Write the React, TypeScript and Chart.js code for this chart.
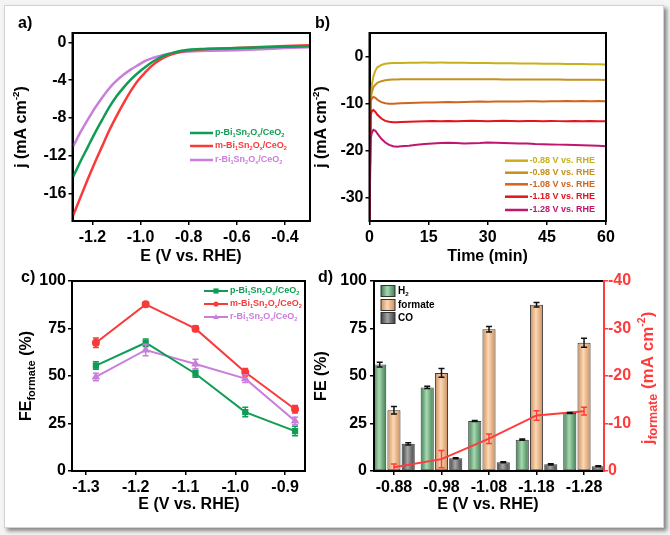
import React, { useEffect, useRef } from 'react';
import { Chart, registerables } from 'chart.js';

Chart.register(...registerables);

const FONT = '"Liberation Sans", Arial, Helvetica, sans-serif';

// ---------- panel a: LSV ----------
const LSV_E = [-1.28, -1.25, -1.22, -1.19, -1.16, -1.13, -1.10, -1.07, -1.04, -1.01, -0.98, -0.95, -0.92, -0.89, -0.86, -0.83, -0.80, -0.75, -0.70, -0.60, -0.50, -0.40, -0.30];
const LSV_P = [-14.2, -12.6, -11.1, -9.6, -8.2, -6.85, -5.7, -4.75, -3.9, -3.2, -2.6, -2.05, -1.6, -1.28, -1.05, -0.88, -0.78, -0.7, -0.66, -0.6, -0.52, -0.45, -0.4];
const LSV_M = [-18.3, -16.4, -14.5, -12.7, -11.0, -9.3, -7.8, -6.4, -5.1, -4.0, -3.15, -2.4, -1.85, -1.45, -1.18, -0.98, -0.85, -0.75, -0.68, -0.58, -0.48, -0.38, -0.3];
const LSV_R = [-11.0, -9.5, -8.2, -6.95, -5.85, -4.85, -4.05, -3.4, -2.85, -2.4, -1.95, -1.65, -1.42, -1.25, -1.1, -1.0, -0.95, -0.9, -0.88, -0.82, -0.72, -0.6, -0.5];
const A_XTICKS = [-1.2, -1.0, -0.8, -0.6, -0.4];
const A_YTICKS = [0, -4, -8, -12, -16];

// ---------- panel b: chronoamperometry ----------
const TIME = [0, 0.3, 0.6, 1, 1.5, 2, 3, 4, 5, 6, 7, 8, 10, 12, 14, 16, 18, 20, 22, 24, 26, 28, 30, 32, 34, 36, 38, 40, 42, 44, 46, 48, 50, 52, 54, 56, 58, 60];
const CA_088 = [-35, -8.5, -6.0, -4.2, -3.0, -2.3, -1.8, -1.55, -1.45, -1.4, -1.38, -1.36, -1.33, -1.32, -1.3, -1.31, -1.3, -1.32, -1.33, -1.35, -1.36, -1.38, -1.4, -1.42, -1.43, -1.45, -1.47, -1.48, -1.5, -1.52, -1.53, -1.55, -1.57, -1.6, -1.62, -1.65, -1.67, -1.7];
const CA_098 = [-35, -9, -7.6, -6.5, -6.0, -5.6, -5.25, -5.05, -4.95, -4.9, -4.88, -4.86, -4.85, -4.84, -4.83, -4.82, -4.82, -4.83, -4.82, -4.84, -4.83, -4.85, -4.86, -4.85, -4.87, -4.88, -4.87, -4.9, -4.9, -4.91, -4.92, -4.92, -4.93, -4.95, -4.94, -4.96, -4.97, -4.98];
const CA_108 = [-35, -9.6, -8.9, -8.6, -8.8, -9.2, -9.7, -9.95, -10.05, -10.05, -10.0, -9.95, -9.9, -9.85, -9.8, -9.78, -9.75, -9.7, -9.72, -9.68, -9.65, -9.6, -9.62, -9.58, -9.6, -9.55, -9.57, -9.52, -9.5, -9.55, -9.5, -9.52, -9.48, -9.5, -9.47, -9.5, -9.48, -9.5];
const CA_118 = [-35, -12.5, -11.6, -11.4, -11.8, -12.4, -13.2, -13.7, -13.9, -14.0, -14.0, -13.95, -13.9, -13.85, -13.8, -13.75, -13.8, -13.7, -13.75, -13.7, -13.65, -13.7, -13.75, -13.7, -13.65, -13.7, -13.75, -13.7, -13.7, -13.75, -13.7, -13.75, -13.8, -13.75, -13.8, -13.75, -13.8, -13.8];
const CA_128 = [-35, -17.5, -16.2, -15.6, -15.8, -16.4, -17.5, -18.3, -18.8, -19.1, -19.2, -19.1, -19.0, -18.8, -18.6, -18.5, -18.4, -18.35, -18.4, -18.5, -18.45, -18.4, -18.3, -18.35, -18.4, -18.45, -18.5, -18.5, -18.6, -18.65, -18.7, -18.75, -18.8, -18.85, -18.9, -18.95, -19.0, -19.1];
const CA_LABELS = ['-0.88', '-0.98', '-1.08', '-1.18', '-1.28'];
const B_XTICKS = [0, 15, 30, 45, 60];
const B_YTICKS = [0, -10, -20, -30];

// ---------- panel c: FE formate ----------
const POT_C = [-1.28, -1.18, -1.08, -0.98, -0.88];
const FE_P = [55.5, 67.5, 51.2, 31, 21];
const FE_M = [67.5, 87.7, 74.9, 52, 32.5];
const FE_R = [49.5, 63.7, 56.3, 48.6, 26.3];
const FE_P_ERR = [2, 2, 1.8, 2.5, 2.5];
const FE_M_ERR = [2.5, 1.2, 1.5, 2, 2];
const FE_R_ERR = [2, 3, 2.5, 2, 2];
const C_XTICKS = [-1.3, -1.2, -1.1, -1.0, -0.9];
const C_YTICKS = [0, 25, 50, 75, 100];

// ---------- panel d: product FE + j formate ----------
const CATS = ['-0.88', '-0.98', '-1.08', '-1.18', '-1.28'];
const FE_H2 = [56, 44, 26.3, 16.5, 30.5];
const FE_FORMATE = [32, 51.6, 74.6, 87.5, 67.5];
const FE_CO = [14.3, 6.7, 4.6, 3.5, 2.5];
const H2_ERR = [1.2, 0.6, 0.3, 0.3, 0.3];
const FORM_ERR = [2, 2.3, 1.5, 1.2, 2.4];
const CO_ERR = [0.6, 0.3, 0.3, 0.3, 0.3];
const J_FORMATE = [-0.8, -2.5, -6.8, -11.7, -12.6];
const J_ERR = [0.7, 1.8, 1.0, 1.0, 0.8];
const D_YTICKS = [0, 25, 50, 75, 100];
const D_Y2TICKS = [0, -10, -20, -30, -40];

const SAMPLES = ['p', 'm', 'r'];
const GREEN = '#0f9d55';
const RED = '#f83a3a';
const PURPLE = '#c97edc';
const CA_COLORS = ['#c6b11a', '#c68f1e', '#d0661e', '#e3141c', '#c0166e'];

const TICK_FONT = { family: FONT, size: 16, weight: 'bold' as const };

function fnt(size: number) {
  return `bold ${size}px ${FONT}`;
}

type Part = { t: string; k?: 'sub' | 'sup'; s?: number };

function drawRich(ctx: any, parts: Part[], x: number, y: number, size: number, color: string, align: 'center' | 'left' = 'center', rotate = false) {
  ctx.save();
  ctx.translate(x, y);
  if (rotate) ctx.rotate(-Math.PI / 2);
  ctx.fillStyle = color;
  ctx.textBaseline = 'middle';
  ctx.textAlign = 'left';
  const specs = parts.map((p) => {
    const s = p.s ?? (p.k ? size * 0.62 : size);
    ctx.font = fnt(s);
    return { ...p, s, w: ctx.measureText(p.t).width };
  });
  const total = specs.reduce((a, b) => a + b.w, 0);
  let cx = align === 'center' ? -total / 2 : 0;
  for (const p of specs) {
    ctx.font = fnt(p.s);
    const dy = p.k === 'sub' ? size * 0.3 : p.k === 'sup' ? -size * 0.35 : 0;
    ctx.fillText(p.t, cx, dy);
    cx += p.w;
  }
  ctx.restore();
}

function sampleName(prefix: string): Part[] {
  return [
    { t: prefix + '-Bi' }, { t: '1', k: 'sub' }, { t: 'Sn' }, { t: '2', k: 'sub' },
    { t: 'O' }, { t: 'x', k: 'sub' }, { t: '/CeO' }, { t: '2', k: 'sub' },
  ];
}

function frame(chart: any, color = '#000') {
  const { left, top, right, bottom } = chart.chartArea;
  const ctx = chart.ctx;
  ctx.save();
  ctx.strokeStyle = color;
  ctx.lineWidth = 2;
  ctx.strokeRect(left, top, right - left, bottom - top);
  ctx.restore();
}

function line(ctx: any, x1: number, y1: number, x2: number, y2: number, color: string, w: number) {
  ctx.save();
  ctx.strokeStyle = color;
  ctx.lineWidth = w;
  ctx.beginPath();
  ctx.moveTo(x1, y1);
  ctx.lineTo(x2, y2);
  ctx.stroke();
  ctx.restore();
}

function marker(ctx: any, style: string, x: number, y: number, r: number, color: string) {
  ctx.save();
  ctx.fillStyle = color;
  ctx.beginPath();
  if (style === 'rect') {
    ctx.rect(x - r, y - r, 2 * r, 2 * r);
  } else if (style === 'circle') {
    ctx.arc(x, y, r, 0, Math.PI * 2);
  } else {
    ctx.moveTo(x, y - r * 1.2);
    ctx.lineTo(x + r * 1.1, y + r * 0.8);
    ctx.lineTo(x - r * 1.1, y + r * 0.8);
    ctx.closePath();
  }
  ctx.fill();
  ctx.restore();
}

const errorBars = {
  id: 'errorBars',
  afterDatasetsDraw(chart: any) {
    const ctx = chart.ctx;
    chart.data.datasets.forEach((ds: any, i: number) => {
      if (!ds.errors) return;
      const meta = chart.getDatasetMeta(i);
      const scale = chart.scales[meta.yAxisID];
      const color = ds.errorColor || ds.borderColor;
      ctx.save();
      ctx.strokeStyle = color;
      ctx.lineWidth = 1.5;
      meta.data.forEach((el: any, j: number) => {
        const d = ds.data[j];
        const v = typeof d === 'number' ? d : d.y;
        const e = ds.errors[j];
        const x = el.x;
        const y1 = scale.getPixelForValue(v + e);
        const y2 = scale.getPixelForValue(v - e);
        const cap = ds.capWidth || 3;
        ctx.beginPath();
        ctx.moveTo(x, y1); ctx.lineTo(x, y2);
        ctx.moveTo(x - cap, y1); ctx.lineTo(x + cap, y1);
        ctx.moveTo(x - cap, y2); ctx.lineTo(x + cap, y2);
        ctx.stroke();
      });
      ctx.restore();
    });
  },
};

const barGradient = {
  id: 'barGradient',
  beforeDatasetDraw(chart: any, args: any) {
    const ds = chart.data.datasets[args.index];
    if (!ds.gradient) return;
    const ctx = chart.ctx;
    args.meta.data.forEach((el: any) => {
      const w = el.width;
      const g = ctx.createLinearGradient(el.x - w / 2, 0, el.x + w / 2, 0);
      g.addColorStop(0, ds.gradient[0]);
      g.addColorStop(0.45, ds.gradient[1]);
      g.addColorStop(1, ds.gradient[0]);
      el.options = { ...el.options, backgroundColor: g };
    });
  },
};

function mkAxis(o: any) {
  const color = o.color || '#000';
  return {
    type: 'linear',
    min: o.min,
    max: o.max,
    position: o.position,
    reverse: !!o.reverse,
    offset: false,
    grid: { display: true, offset: false, drawOnChartArea: false, drawTicks: true, tickLength: 4, color, lineWidth: 1.5 },
    border: { display: true, color, width: 2 },
    ticks: {
      font: TICK_FONT,
      color,
      padding: o.pad ?? 2,
      autoSkip: false,
      maxRotation: 0,
      minRotation: 0,
      callback: (v: any) => o.fmt(v),
    },
    afterBuildTicks: (s: any) => {
      s.ticks = o.ticks.map((v: number) => ({ value: v }));
    },
    afterFit: (s: any) => {
      if (o.w != null) s.width = o.w;
      if (o.h != null) s.height = o.h;
    },
  };
}

const baseOpts = {
  responsive: false,
  maintainAspectRatio: false,
  animation: false as const,
  events: [] as any[],
};
const noPlugins = { legend: { display: false }, tooltip: { enabled: false } };

function cfgA(): any {
  const sets = [LSV_P, LSV_M, LSV_R];
  const cols = [GREEN, RED, PURPLE];
  return {
    type: 'line',
    data: {
      datasets: sets.map((arr, k) => ({
        label: SAMPLES[k],
        data: LSV_E.map((x, i) => ({ x, y: arr[i] })),
        borderColor: cols[k],
        borderWidth: 2.5,
        pointRadius: 0,
        cubicInterpolationMode: 'monotone',
        fill: false,
      })),
    },
    options: {
      ...baseOpts,
      layout: { padding: { top: 33, right: 360, left: 0, bottom: 0 } },
      plugins: noPlugins,
      scales: {
        x: mkAxis({ min: -1.283, max: -0.296, ticks: A_XTICKS, fmt: (v: number) => v.toFixed(1), h: 314, pad: 3 }),
        y: mkAxis({ min: -18.9, max: 1, ticks: A_YTICKS, fmt: (v: number) => String(v), w: 72.5 }),
      },
    },
    plugins: [
      {
        id: 'decorA',
        afterDraw(chart: any) {
          const ctx = chart.ctx;
          frame(chart);
          drawRich(ctx, [{ t: 'a)' }], 18, 24, 16, '#000', 'left');
          drawRich(ctx, [{ t: 'j (mA cm' }, { t: '-2', k: 'sup' }, { t: ')' }], 22, 127, 16, '#000', 'center', true);
          drawRich(ctx, [{ t: 'E (V vs. RHE)' }], 191, 257, 16, '#000');
          const ys = [133, 146, 160];
          ys.forEach((y, k) => {
            line(ctx, 190, y, 213, y, cols[k], 2.5);
            drawRich(ctx, sampleName(SAMPLES[k]), 215, y, 9, cols[k], 'left');
          });
        },
      },
    ],
  };
}

function cfgB(): any {
  const sets = [CA_088, CA_098, CA_108, CA_118, CA_128];
  return {
    type: 'line',
    data: {
      datasets: sets.map((arr, k) => ({
        label: CA_LABELS[k],
        data: TIME.map((x, i) => ({ x, y: arr[i] })),
        borderColor: CA_COLORS[k],
        borderWidth: 2,
        pointRadius: 0,
        tension: 0,
        fill: false,
        order: 5 - k,
      })),
    },
    options: {
      ...baseOpts,
      layout: { padding: { top: 33, right: 64, left: 0, bottom: 0 } },
      plugins: noPlugins,
      scales: {
        x: mkAxis({ min: 0, max: 60, ticks: B_XTICKS, fmt: (v: number) => String(v), h: 314, pad: 3 }),
        y: mkAxis({ min: -35, max: 5, ticks: B_YTICKS, fmt: (v: number) => String(v), w: 369.5 }),
      },
    },
    plugins: [
      {
        id: 'decorB',
        afterDraw(chart: any) {
          const ctx = chart.ctx;
          frame(chart);
          drawRich(ctx, [{ t: 'b)' }], 315, 24, 16, '#000', 'left');
          drawRich(ctx, [{ t: 'j (mA cm' }, { t: '-2', k: 'sup' }, { t: ')' }], 322, 127, 16, '#000', 'center', true);
          drawRich(ctx, [{ t: 'Time (min)' }], 487.5, 257, 16, '#000');
          const ys = [160.7, 172.7, 184.3, 196.7, 210];
          ys.forEach((y, k) => {
            line(ctx, 505, y, 528, y, CA_COLORS[k], 2.5);
            drawRich(ctx, [{ t: CA_LABELS[k] + ' V vs. RHE' }], 529.5, y, 9, CA_COLORS[k], 'left');
          });
        },
      },
    ],
  };
}

function cfgC(): any {
  const sets = [FE_P, FE_M, FE_R];
  const errs = [FE_P_ERR, FE_M_ERR, FE_R_ERR];
  const cols = [GREEN, RED, PURPLE];
  const styles = ['rect', 'circle', 'triangle'];
  return {
    type: 'line',
    data: {
      datasets: sets.map((arr, k) => ({
        label: SAMPLES[k],
        data: POT_C.map((x, i) => ({ x, y: arr[i] })),
        errors: errs[k],
        borderColor: cols[k],
        backgroundColor: cols[k],
        pointBackgroundColor: cols[k],
        pointBorderColor: cols[k],
        pointStyle: styles[k],
        pointRadius: 3,
        borderWidth: 2,
        tension: 0,
        fill: false,
      })),
    },
    options: {
      ...baseOpts,
      layout: { padding: { top: 281, right: 365, left: 0, bottom: 0 } },
      plugins: noPlugins,
      scales: {
        x: mkAxis({ min: -1.328, max: -0.86, ticks: C_XTICKS, fmt: (v: number) => v.toFixed(1), h: 64, pad: 3 }),
        y: mkAxis({ min: 0, max: 100, ticks: C_YTICKS, fmt: (v: number) => String(v), w: 72 }),
      },
    },
    plugins: [
      errorBars,
      {
        id: 'decorC',
        afterDraw(chart: any) {
          const ctx = chart.ctx;
          frame(chart);
          drawRich(ctx, [{ t: 'c)' }], 21, 278, 16, '#000', 'left');
          drawRich(ctx, [{ t: 'FE' }, { t: 'formate', k: 'sub', s: 11 }, { t: ' (%)' }], 27, 376, 16, '#000', 'center', true);
          drawRich(ctx, [{ t: 'E (V vs. RHE)' }], 189, 505, 16, '#000');
          const ys = [291, 304, 317];
          ys.forEach((y, k) => {
            line(ctx, 204, y, 228, y, cols[k], 2);
            marker(ctx, styles[k], 216, y, 2.6, cols[k]);
            drawRich(ctx, sampleName(SAMPLES[k]), 230, y, 9, cols[k], 'left');
          });
        },
      },
    ],
  };
}

function cfgD(): any {
  const idx = CATS.map((_, i) => i);
  const bar = (vals: number[], errs: number[], grad: string[], label: string) => ({
    type: 'bar',
    label,
    data: idx.map((i) => ({ x: i, y: vals[i] })),
    errors: errs,
    errorColor: '#111',
    capWidth: 3,
    gradient: grad,
    backgroundColor: grad[1],
    borderColor: '#3a3a3a',
    borderWidth: 1,
    borderSkipped: false,
    categoryPercentage: 0.9,
    barPercentage: 0.92,
    yAxisID: 'y',
    order: 2,
  });
  return {
    type: 'bar',
    data: {
      datasets: [
        bar(FE_H2, H2_ERR, ['#3f7d50', '#a8d8b2'], 'H2'),
        bar(FE_FORMATE, FORM_ERR, ['#c98f5e', '#fdd8b4'], 'formate'),
        bar(FE_CO, CO_ERR, ['#3e3e3e', '#a6a6a6'], 'CO'),
        {
          type: 'line',
          label: 'j formate',
          data: idx.map((i) => ({ x: i, y: J_FORMATE[i] })),
          errors: J_ERR,
          errorColor: '#ff3b3b',
          capWidth: 3,
          borderColor: '#ff3b3b',
          backgroundColor: '#ff3b3b',
          borderWidth: 2,
          pointRadius: 0,
          tension: 0,
          fill: false,
          yAxisID: 'y2',
          order: 0,
        },
      ],
    },
    options: {
      ...baseOpts,
      layout: { padding: { top: 281, right: 0, left: 0, bottom: 0 } },
      plugins: noPlugins,
      scales: {
        x: mkAxis({ min: -0.42, max: 4.42, ticks: idx, fmt: (v: number) => CATS[Math.round(v)], h: 64, pad: 3 }),
        y: mkAxis({ min: 0, max: 100, ticks: D_YTICKS, fmt: (v: number) => String(v), w: 374, pad: 3 }),
        y2: mkAxis({ min: -40, max: 0, reverse: true, position: 'right', ticks: D_Y2TICKS, fmt: (v: number) => String(v), w: 66, color: '#ff3b3b', pad: 0 }),
      },
    },
    plugins: [
      barGradient,
      errorBars,
      {
        id: 'decorD',
        afterDraw(chart: any) {
          const ctx = chart.ctx;
          frame(chart);
          const { right, top, bottom } = chart.chartArea;
          line(ctx, right, top - 1, right, bottom + 1, '#ff3b3b', 2);
          drawRich(ctx, [{ t: 'd)' }], 318, 278, 16, '#000', 'left');
          drawRich(ctx, [{ t: 'FE (%)' }], 322, 376, 16, '#000', 'center', true);
          drawRich(
            ctx,
            [{ t: 'j' }, { t: 'formate', k: 'sub', s: 12.5 }, { t: ' (mA cm' }, { t: '-2', k: 'sup' }, { t: ')' }],
            648, 378, 17, '#ff3b3b', 'center', true,
          );
          drawRich(ctx, [{ t: 'E (V vs. RHE)' }], 488, 505, 16, '#000');
          const items: { parts: Part[]; g: string[] }[] = [
            { parts: [{ t: 'H' }, { t: '2', k: 'sub' }], g: ['#3f7d50', '#a8d8b2'] },
            { parts: [{ t: 'formate' }], g: ['#c98f5e', '#fdd8b4'] },
            { parts: [{ t: 'CO' }], g: ['#3e3e3e', '#a6a6a6'] },
          ];
          const ys = [291, 305, 318];
          items.forEach((it, k) => {
            const y = ys[k];
            const gr = ctx.createLinearGradient(381, 0, 395, 0);
            gr.addColorStop(0, it.g[0]);
            gr.addColorStop(0.45, it.g[1]);
            gr.addColorStop(1, it.g[0]);
            ctx.save();
            ctx.fillStyle = gr;
            ctx.fillRect(381, y - 5.5, 14, 11);
            ctx.strokeStyle = '#333';
            ctx.lineWidth = 1;
            ctx.strokeRect(381, y - 5.5, 14, 11);
            ctx.restore();
            drawRich(ctx, it.parts, 398, y, 10, '#000', 'left');
          });
        },
      },
    ],
  };
}

export default function App() {
  const ra = useRef<HTMLCanvasElement>(null);
  const rb = useRef<HTMLCanvasElement>(null);
  const rc = useRef<HTMLCanvasElement>(null);
  const rd = useRef<HTMLCanvasElement>(null);

  useEffect(() => {
    const charts = [
      new Chart(ra.current as HTMLCanvasElement, cfgA()),
      new Chart(rb.current as HTMLCanvasElement, cfgB()),
      new Chart(rc.current as HTMLCanvasElement, cfgC()),
      new Chart(rd.current as HTMLCanvasElement, cfgD()),
    ];
    return () => charts.forEach((c) => c.destroy());
  }, []);

  const cstyle: React.CSSProperties = { position: 'absolute', left: 0, top: 0, width: 670, height: 535 };
  return (
    <div style={{ position: 'absolute', left: 0, top: 0, width: 670, height: 535, background: '#f4f4f4', overflow: 'hidden' }}>
      <div
        style={{
          position: 'absolute', left: 4, top: 5, width: 658, height: 521, background: '#fff',
          border: '1px solid #d2d2d2', boxShadow: '3px 3px 4px rgba(0,0,0,0.45)',
        }}
      />
      <canvas ref={ra} width={670} height={535} style={cstyle} />
      <canvas ref={rb} width={670} height={535} style={cstyle} />
      <canvas ref={rc} width={670} height={535} style={cstyle} />
      <canvas ref={rd} width={670} height={535} style={cstyle} />
    </div>
  );
}
